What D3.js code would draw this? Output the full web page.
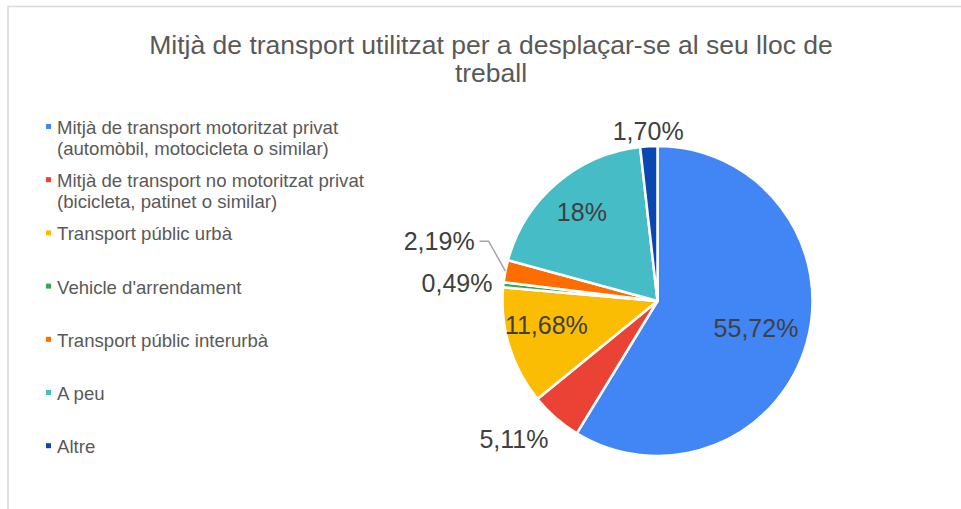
<!DOCTYPE html>
<html>
<head>
<meta charset="utf-8">
<script src="https://cdn.jsdelivr.net/npm/d3@7"></script>
<style>
  body { margin: 0; background: #fff; }
  svg { display: block; font-family: "Liberation Sans", Arial, sans-serif; }
</style>
</head>
<body>
<svg width="961" height="509"></svg>
<script>
// data
var categories = [
  "Mitjà de transport motoritzat privat (automòbil, motocicleta o similar)",
  "Mitjà de transport no motoritzat privat (bicicleta, patinet o similar)",
  "Transport públic urbà",
  "Vehicle d'arrendament",
  "Transport públic interurbà",
  "A peu",
  "Altre"
];
var legendLines = [
  ["Mitjà de transport motoritzat privat", "(automòbil, motocicleta o similar)"],
  ["Mitjà de transport no motoritzat privat", "(bicicleta, patinet o similar)"],
  ["Transport públic urbà"],
  ["Vehicle d'arrendament"],
  ["Transport públic interurbà"],
  ["A peu"],
  ["Altre"]
];
var values = [55.72, 5.11, 11.68, 0.49, 2.19, 18, 1.70];
var valueLabels = ["55,72%", "5,11%", "11,68%", "0,49%", "2,19%", "18%", "1,70%"];
var colors = ["#4285f4", "#ea4335", "#fbbc04", "#34a853", "#ff6d01", "#46bdc6", "#0b47b0"];
var titleLines = ["Mitjà de transport utilitzat per a desplaçar-se al seu lloc de", "treball"];

var svg = d3.select("svg");

// chart border (only top and left edges visible in the crop)
svg.append("path")
  .attr("d", "M8,509 L8,6.5 L961,6.5")
  .attr("fill", "none")
  .attr("stroke", "#d9d9d9")
  .attr("stroke-width", 1.5);

// title
svg.append("text")
  .attr("x", 491).attr("y", 54)
  .attr("text-anchor", "middle")
  .attr("font-size", 26.5)
  .attr("fill", "#595959")
  .selectAll("tspan").data(titleLines).enter()
  .append("tspan")
  .attr("x", 491)
  .attr("dy", function(d, i) { return i ? 28 : 0; })
  .text(function(d) { return d; });

// legend
var legend = svg.append("g").selectAll("g").data(legendLines).enter()
  .append("g")
  .attr("transform", function(d, i) { return "translate(46," + (134 + i * 53.2) + ")"; });
legend.append("rect")
  .attr("x", 0).attr("y", -10)
  .attr("width", 5).attr("height", 5)
  .attr("fill", function(d, i) { return colors[i]; });
legend.append("text")
  .attr("font-size", 18.6)
  .attr("fill", "#595959")
  .selectAll("tspan").data(function(d) { return d; }).enter()
  .append("tspan")
  .attr("x", 11)
  .attr("dy", function(d, i) { return i ? 20.5 : 0; })
  .text(function(d) { return d; });

// pie
var cx = 657.5, cy = 301, r = 155;
var color = d3.scaleOrdinal().domain(categories).range(colors);
var pie = d3.pie().sort(null).value(function(d) { return d; });
var arcs = pie(values);
var arc = d3.arc().innerRadius(0).outerRadius(r);

var g = svg.append("g").attr("transform", "translate(" + cx + "," + cy + ")");
g.selectAll("path").data(arcs).enter()
  .append("path")
  .attr("d", arc)
  .attr("fill", function(d, i) { return color(categories[i]); })
  .attr("stroke", "#fff")
  .attr("stroke-width", 2.5)
  .attr("stroke-linejoin", "round");

// labels: big slices inside, small ones outside
var total = d3.sum(values);
var labels = arcs.map(function(d, i) {
  var a = (d.startAngle + d.endAngle) / 2;
  var s = Math.sin(a), c = -Math.cos(a);
  var inside = d.value / total > 0.08;
  var o = { i: i, a: a, inside: inside };
  if (inside) {
    var rr = i === 0 ? 0.66 * r : 0.75 * r;
    o.x = s * rr; o.y = c * rr; o.anchor = "middle";
    if (c > 0 && s < 0) o.y -= 10; // lower-left label sits a bit higher
  } else {
    var ro = r + 11;
    o.x = s * ro; o.y = c * ro + (c > 0 ? c * 18 : c * 4);
    o.anchor = Math.abs(s) < 0.2 ? "middle" : (s < 0 ? "end" : "start");
  }
  return o;
});
// push apart outside labels on the left side that collide
var leftOut = labels.filter(function(l) { return !l.inside && l.anchor === "end"; })
  .sort(function(a, b) { return b.y - a.y; });
for (var k = 1; k < leftOut.length; k++) {
  var prev = leftOut[k - 1], cur = leftOut[k];
  if (prev.y - cur.y < 30 && Math.abs(prev.x - cur.x) < 80) {
    cur.y = prev.y - 42;
    cur.x = cur.x - 20;
    cur.leader = [[cur.x + 5, cur.y], [cur.x + 14, cur.y],
                  [Math.sin(cur.a) * r, -Math.cos(cur.a) * r]];
  }
}

g.selectAll("polyline").data(labels.filter(function(l) { return l.leader; })).enter()
  .append("polyline")
  .attr("points", function(l) { return l.leader.map(function(p) { return p.join(","); }).join(" "); })
  .attr("fill", "none")
  .attr("stroke", "#a6a6a6")
  .attr("stroke-width", 1.5);

g.selectAll("text.lbl").data(labels).enter()
  .append("text")
  .attr("class", "lbl")
  .attr("x", function(l) { return l.x; })
  .attr("y", function(l) { return l.y; })
  .attr("dy", "0.35em")
  .attr("text-anchor", function(l) { return l.anchor; })
  .attr("font-size", 25)
  .attr("fill", "#404040")
  .text(function(l) { return valueLabels[l.i]; });
</script>
</body>
</html>
